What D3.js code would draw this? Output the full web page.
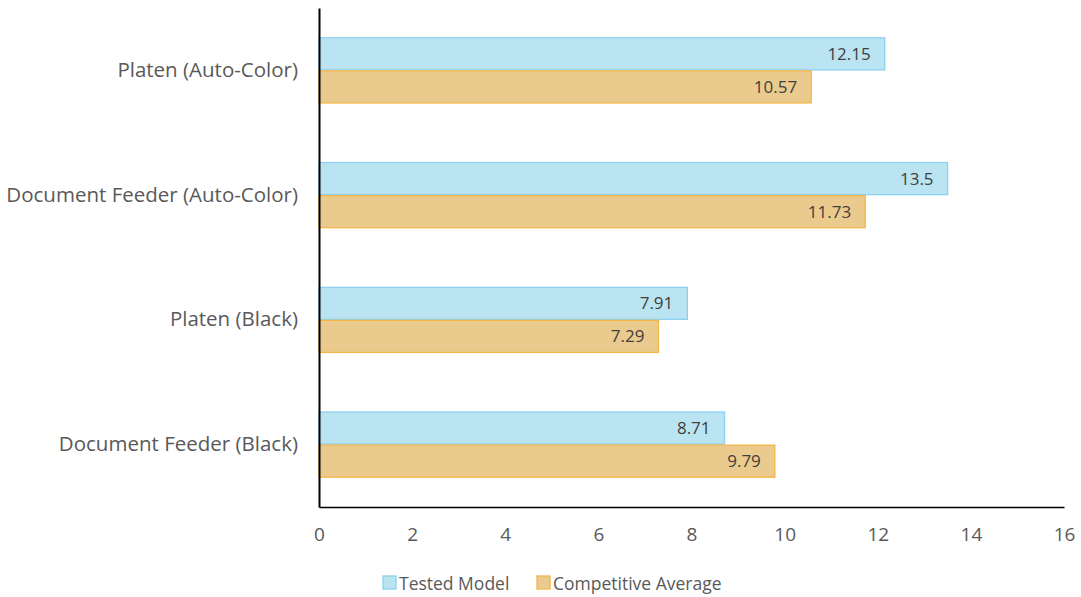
<!DOCTYPE html>
<html><head><meta charset="utf-8">
<script src="https://cdn.jsdelivr.net/npm/d3@7"></script>
<style>body{margin:0;background:#fff;} text{font-family:"Open Sans",sans-serif;}</style>
</head><body>
<svg id="c" width="1081" height="597"></svg>
<script>
const categories = ["Platen (Auto-Color)", "Document Feeder (Auto-Color)", "Platen (Black)", "Document Feeder (Black)"];
const seriesNames = ["Tested Model", "Competitive Average"];
const testedModel = [12.15, 13.5, 7.91, 8.71];
const competitiveAverage = [10.57, 11.73, 7.29, 9.79];
const xTicks = [0, 2, 4, 6, 8, 10, 12, 14, 16];

const fills = ["#BAE4F2", "#EACB8D"];
const strokes = ["#8DD0EF", "#F5B547"];

const svg = d3.select("#c");
const mLeft = 319, mRight = 1064, mTop = 8, mBottom = 507;
const x = d3.scaleLinear().domain([0, 16]).range([mLeft, mRight]);
const y = d3.scaleBand().domain(categories).range([mTop, mBottom]).paddingInner(0.47).paddingOuter(0.235);
const sub = d3.scaleBand().domain(seriesNames).range([0, y.bandwidth()]);

const data = categories.map((c, i) => ({cat: c, vals: [testedModel[i], competitiveAverage[i]]}));

const g = svg.append("g");
data.forEach(d => {
  d.vals.forEach((v, j) => {
    const yy = y(d.cat) + sub(seriesNames[j]);
    g.append("rect").attr("x", x(0)).attr("y", yy + 0.5)
      .attr("width", x(v) - x(0)).attr("height", sub.bandwidth() - 1)
      .attr("fill", fills[j]).attr("stroke", strokes[j]).attr("stroke-width", 1.3);
    g.append("text").attr("x", x(v) - 14).attr("y", yy + sub.bandwidth() / 2 + 6)
      .attr("text-anchor", "end").attr("font-size", 17).attr("fill", "#404040").text(v);
  });
});

// axes
const xAxis = svg.append("g").attr("transform", `translate(0,${mBottom})`)
  .call(d3.axisBottom(x).tickValues(xTicks).tickSize(0).tickPadding(21));
xAxis.select(".domain").attr("stroke", "#000").attr("stroke-width", 1.5);
xAxis.selectAll("text").attr("font-size", 19).attr("fill", "#595959").style("font-family", "'Open Sans',sans-serif");

const yAxis = svg.append("g").attr("transform", `translate(${mLeft},0)`)
  .call(d3.axisLeft(y).tickSize(0).tickPadding(21));
yAxis.select(".domain").attr("stroke", "#000").attr("stroke-width", 2);
yAxis.selectAll("text").attr("font-size", 20.5).attr("fill", "#595959").style("font-family", "'Open Sans',sans-serif");

// legend
const legendX = [383, 537];
seriesNames.forEach((s, j) => {
  svg.append("rect").attr("x", legendX[j]).attr("y", 576).attr("width", 13).attr("height", 13)
    .attr("fill", fills[j]).attr("stroke", strokes[j]).attr("stroke-width", 1.3);
  svg.append("text").attr("x", legendX[j] + 16).attr("y", 589.5).attr("font-size", 17.5)
    .attr("fill", "#595959").text(s);
});
</script>
</body></html>
